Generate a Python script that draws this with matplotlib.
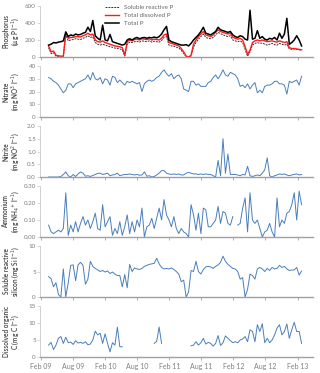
import numpy as np
import pandas as pd
import matplotlib
matplotlib.use("Agg")
import matplotlib.pyplot as plt
import matplotlib.dates as mdates

nan = np.nan

# fortnightly samples, Mar 2009 - Feb 2013
dates = pd.date_range("2009-03-15", periods=104, freq="14D")

total_p = [140, 150, 170, 165, 175, 180, 190, 295, 240, 260, 250, 270, 260,
           265, 280, 290, 350, 300, 430, 250, 220, 200, 375, 200, 190, 265,
           180, 170, 160, 150, 140, 150, 200, 215, 200, 220, 230, 215, 225,
           230, 220, 230, 225, 235, 225, 240, 270, 320, 360, 200, 180, 170,
           160, 150, 140, 140, 145, 130, 160, 200, 230, 260, 300, 350, 280,
           270, 260, 280, 300, 350, 320, 310, 300, 290, 300, 260, 240, 230,
           250, 240, 210, 200, 550, 210, 220, 310, 220, 240, 210, 200, 220,
           210, 230, 200, 280, 220, 270, 455, 150, 170, 200, 250, 200, 130]

tdp = [130, 60, 70, 20, 15, 10, 10, 290, 220, 230, 230, 240, 240,
       235, 250, 260, 280, 260, 270, 200, 180, 175, 190, 170, 160, 150,
       140, 130, 125, 120, 110, 20, 180, 200, 190, 205, 210, 200, 215,
       210, 205, 215, 200, 210, 205, 200, 220, 260, 270, 170, 160, 150,
       140, 130, 100, 60, 10, 0, 20, 150, 200, 240, 270, 300, 260,
       250, 240, 260, 290, 320, 300, 290, 280, 270, 280, 230, 220, 210,
       220, 200, 120, 30, 80, 170, 190, 200, 190, 200, 190, 180, 185,
       190, 180, 175, 190, 180, 170, 180, 110, 100, 100, 95, 90, 85]

srp = [110, 40, 50, 10, 5, 5, 5, 260, 190, 200, 205, 215, 210,
       205, 220, 230, 250, 230, 240, 170, 150, 140, 150, 140, 130, 120,
       115, 105, 100, 95, 85, 10, 150, 175, 170, 180, 185, 175, 190,
       185, 180, 190, 175, 185, 180, 175, 195, 230, 240, 140, 130, 125,
       115, 105, 80, 40, 5, 0, 10, 120, 170, 210, 240, 270, 230,
       220, 215, 230, 260, 290, 275, 260, 250, 240, 250, 200, 190, 180,
       190, 170, 90, 10, 60, 140, 160, 170, 160, 165, 150, 140, 150,
       160, 145, 140, 160, 150, 140, 150, 95, 90, 95, 90, 85, 80]

nitrate = [31, 30, 28, 27, 25, 22, 19, 21, 26, 26, 23, 26, 27,
           28, 29, 30, 33, 29, 35, 30, 29, 31, 26, 30, 29, 25,
           32, 31, 27, 29, 27, 25, 28, 27, 28, 27, 26, 27, 20,
           26, 28, 29, 28, 29, 31, 32, 35, 37, 34, 32, 34, 30,
           32, 33, 30, 22, 21, 20, 28, 28, 25, 26, 24, 24, 24,
           27, 28, 31, 33, 30, 33, 37, 33, 32, 35, 34, 33, 30,
           24, 25, 23, 26, 22, 25, 27, 19, 21, 19, 24, 25, 25,
           26, 28, 28, 26, 26, 25, 18, 28, 27, 28, 29, 25, 32]

nitrite = [0, 0, 0, 0, 0, 0.02, 0.1, 0.2, 0.05, 0, 0.1, 0.02, 0.12,
           0.2, 0.15, 0.03, 0.05, 0.02, 0.06, 0.1, 0.14, 0.15, 0.1, 0.12, 0.15, 0.05,
           0.08, 0.1, 0.15, 0.05, 0.08, 0.1, 0.1, 0.12, 0.1, 0.08, 0.1, 0.07, 0.08,
           0.2, 0.03, 0.05, 0, 0.02, 0.08, 0.15, 0.25, 0.25, 0.15, 0.12, 0.1, 0.12,
           0.1, 0.12, 0.08, 0.08, 0.15, 0.18, 0.15, 0.12, 0.12, 0.1, 0.12, 0.1, 0.12,
           0.1, 0.1, 0.05, 0, 0.65, 0.05, 1.5, 0.15, 0.9, 0.1, 0.1, 0.1, 0.08,
           0.05, 0.1, 0.08, 0.42, 0.05, 0.02, 0.05, 0.08, 0.05, 0.15, 0.28, 0.75, 0.05,
           0, 0.05, 0.08, 0.12, 0.1, 0.12, 0.08, 0.05, 0.08, 0.1, 0.12, 0.08, 0.1]

ammonium = [0.07, 0.03, 0.02, 0.03, 0.04, 0.03, 0.05, 0.26, 0.01, 0.07, 0.03, 0.09, 0.03,
            0.08, 0.12, 0.07, 0.10, 0.05, 0.09, 0.14, 0.05, 0.04, 0.19, 0.06, 0.09, 0.12,
            0.01, 0.05, 0.02, 0.09, 0.01, 0.06, 0.13, 0.02, 0.09, 0.03, 0.10, 0.06, 0.17,
            0.00, 0.06, 0.07, 0.11, 0.05, 0.11, 0.17, 0.10, 0.22, 0.13, 0.10, 0.06, 0.12,
            0.05, 0.02, 0.05, 0.03, 0.02, 0.00, 0.19, 0.13, 0.04, 0.14, 0.02, 0.17, 0.16,
            0.06, 0.06, 0.08, 0.10, 0.18, 0.08, 0.15, 0.14, 0.08, 0.07, 0.12, nan, 0.07,
            0.08, 0.17, 0.23, 0.03, 0.26, 0.10, 0.08, 0.10, 0.05, 0.00, 0.03, 0.04, 0.08,
            0.03, 0.00, 0.23, 0.06, 0.10, 0.08, 0.14, 0.15, 0.19, 0.26, 0.10, 0.27, 0.19]

silicon = [4.0, 3.6, 2.0, 2.8, 0.5, 0.0, 5.5, 0.0, 2.8, 6.2, 6.3, 3.2, 6.3,
           6.8, 6.2, 2.5, 3.5, 7.0, 6.0, 5.6, 5.3, 5.0, 5.2, 4.9, 5.1, 4.6,
           4.9, 4.5, 4.2, 4.2, 2.0, 4.4, 1.8, 6.4, 5.0, 5.7, 5.5, 5.4, 5.6,
           6.0, 6.2, 6.4, 6.5, 6.6, 7.6, 6.5, 5.8, 5.5, 5.6, 5.5, 5.7, 5.4,
           5.0, 4.5, 3.0, 3.3, 0.0, 1.0, 5.2, 5.0, 7.0, 5.0, 4.5, 5.4, 5.9,
           6.0, 5.9, 5.6, 6.0, 6.3, 6.8, 8.0, 7.0, 6.4, 6.0, 5.6, 5.5, 5.0,
           3.5, 3.8, 0.0, 1.5, 4.5, 4.2, 3.5, 5.5, 5.8, 5.5, 5.0, 5.6, 5.2,
           5.8, 5.5, 5.6, 6.2, 5.8, 6.0, 5.5, 5.2, 5.3, 5.3, 5.8, 4.3, 5.1]

doc = [3.5, 4.3, 2.2, 3.5, 5.5, 6.0, 4.0, 5.8, 4.2, 4.4, 3.7, 4.8, 4.1,
       4.3, 4.0, 4.5, 3.6, 3.8, 5.0, 7.6, 6.5, 7.0, 4.0, 6.8, 4.0, 1.5,
       4.2, 3.5, 8.8, 3.0, 3.0, nan, nan, nan, nan, nan, nan, nan, nan,
       nan, nan, nan, nan, 4.0, 4.6, 8.8, 4.0, nan, nan, nan, nan, nan,
       nan, nan, nan, nan, nan, nan, 3.3, 3.5, 4.5, 3.5, 4.2, 5.5, 3.8,
       4.3, 4.0, 3.2, 4.0, 6.3, 3.4, 4.2, 6.2, 5.5, 4.8, 4.2, 4.5, 4.2,
       5.0, 5.3, 6.0, 4.5, 8.0, 7.5, 4.5, 9.5, 7.5, 9.8, 4.2, 5.5, 4.2,
       5.0, 6.5, 8.5, 9.5, 6.5, 7.5, 9.7, 5.5, 8.0, 10.2, 7.5, 7.5, 4.0]

ylabels = ["Phosphorus\n(\u00b5g P l$^{-1}$)",
           "Nitrate\n(mg NO$^{3}$ l$^{-1}$)",
           "Nitrite\n(mg NO$^{2}$ l$^{-1}$)",
           "Ammonium\n(mg NH$_4$$^{+}$ l$^{-1}$)",
           "Soluble reactive\nsilicon (mg Si l$^{-1}$)",
           "Dissolved organic\nC (mg C l$^{-1}$)"]
yticks = [[0, 200, 400, 600],
          [0, 10, 20, 30, 40],
          [0, 0.5, 1.0, 1.5, 2.0],
          [0, 0.1, 0.2, 0.3],
          [0, 5, 10],
          [0, 5, 10, 15]]
yfmt = ["%d", "%d", "%.1f", "%.2f", "%d", "%d"]

plt.rcParams['font.family'] = ['Lato', 'DejaVu Sans']
plt.rcParams['mathtext.fontset'] = 'dejavusans'

W, H = 320, 373
fig = plt.figure(figsize=(W / 100, H / 100), dpi=100)
bottoms = [57, 117, 177, 237, 297, 357]
blue = "#4a7ebb"
grey = "#a0a0a0"

axes = []
for k in range(6):
    ax = fig.add_axes([40 / W, 1 - bottoms[k] / H, 273 / W, 51 / H])
    axes.append(ax)

ax = axes[0]
ax.plot(dates, srp, color="#333333", lw=0.7, ls=(0, (2, 1)), label="Soluble reactive P")
ax.plot(dates, tdp, color="#ff1a1a", lw=1.0, label="Total dissolved P")
ax.plot(dates, total_p, color="black", lw=1.1, label="Total P")
leg = ax.legend(loc="upper left", bbox_to_anchor=(0.23, 1.08), frameon=False,
                fontsize=4.5, handlelength=2.2, labelspacing=0.45, borderaxespad=0)
for t in leg.get_texts():
    t.set_color("#666666")

axes[1].plot(dates, nitrate, color=blue, lw=0.7)
axes[2].plot(dates, nitrite, color=blue, lw=0.7)
axes[3].plot(dates, ammonium, color=blue, lw=0.7)
axes[4].plot(dates, silicon, color=blue, lw=0.7)
axes[5].plot(dates, doc, color=blue, lw=0.7)

for k, ax in enumerate(axes):
    ax.set_xlim(pd.Timestamp("2009-01-25"), pd.Timestamp("2013-04-30"))
    ax.set_ylim(yticks[k][0], yticks[k][-1])
    ax.set_yticks(yticks[k])
    ax.yaxis.set_major_formatter(matplotlib.ticker.FormatStrFormatter(yfmt[k]))
    ax.xaxis.set_major_locator(mdates.MonthLocator(bymonth=[2, 8]))
    ax.xaxis.set_major_formatter(mdates.DateFormatter("%b %y"))
    ax.spines["top"].set_visible(False)
    ax.spines["right"].set_visible(False)
    ax.spines["left"].set_color("#c8c8c8")
    ax.spines["left"].set_linewidth(0.6)
    ax.spines["bottom"].set_color(grey)
    ax.spines["bottom"].set_linewidth(1.0)
    ax.tick_params(axis="y", length=2, width=0.5, color="#c8c8c8", pad=1,
                   labelsize=4.5, labelcolor="#7f7f7f")
    ax.tick_params(axis="x", length=2, width=0.6, color=grey, pad=2,
                   labelsize=5, labelcolor="#7f7f7f")
    if k < 5:
        ax.tick_params(axis="x", labelbottom=False)
    ax.set_ylabel(ylabels[k], fontsize=4.7, color="#404040", fontweight="semibold",
                  linespacing=1.0)
    ax.yaxis.set_label_coords(-0.07, 0.5)

fig.savefig("out.png", dpi=100)
